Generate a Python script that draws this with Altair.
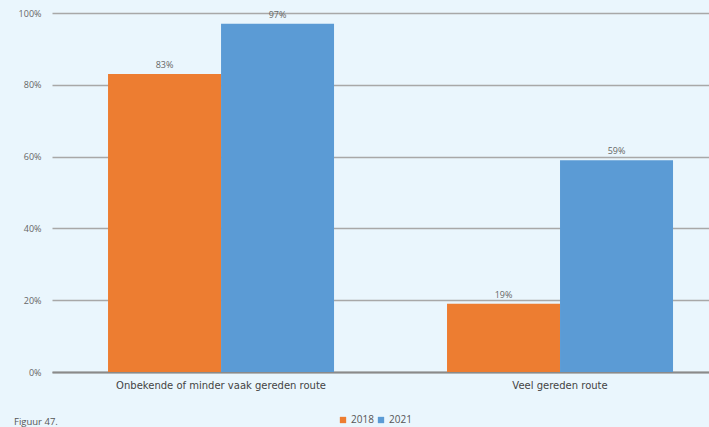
import altair as alt
import pandas as pd

categories = ["Onbekende of minder vaak gereden route", "Veel gereden route"]
years = ["2018", "2021"]
values_2018 = [0.83, 0.19]
values_2021 = [0.97, 0.59]
labels_2018 = ["83%", "19%"]
labels_2021 = ["97%", "59%"]

rows = []
for i, c in enumerate(categories):
    rows.append({"cat": c, "year": "2018", "value": values_2018[i], "label": labels_2018[i]})
    rows.append({"cat": c, "year": "2021", "value": values_2021[i], "label": labels_2021[i]})
df = pd.DataFrame(rows)

FONT = "Open Sans"
WIDE = "DejaVu Sans"
x_scale = alt.Scale(domain=categories, paddingInner=0.3333, paddingOuter=0.1357, align=0.609)

base = alt.Chart(df).encode(
    x=alt.X("cat:N", scale=x_scale, sort=categories,
            axis=alt.Axis(title=None, labelAngle=0, labelFontSize=10, labelColor="#444",
                          labelFont=WIDE, ticks=False, domainColor="#8a8a8a", labelLimit=0,
                          domainWidth=2, labelPadding=8, grid=False)),
    xOffset=alt.XOffset("year:N", sort=years, scale=alt.Scale(paddingInner=0, paddingOuter=0)),
)

bars = base.mark_bar(size=113).encode(
    y=alt.Y("value:Q", scale=alt.Scale(domain=[0, 1]),
            axis=alt.Axis(title=None, format=".0%", values=[0, 0.2, 0.4, 0.6, 0.8, 1.0],
                          labelFontSize=9, labelColor="#666", labelFont=FONT,
                          ticks=False, domain=False, gridColor="#a8a8a8", gridWidth=1.3,
                          labelPadding=11)),
    color=alt.Color("year:N", sort=years,
                    scale=alt.Scale(domain=years, range=["#ed7d31", "#5b9bd5"]),
                    legend=alt.Legend(title=None, orient="none", direction="horizontal",
                                      legendX=286, legendY=402, symbolType="square",
                                      symbolSize=40, labelFontSize=10, labelFont=FONT,
                                      labelColor="#555", columnPadding=2, labelOffset=3,
                                      symbolOffset=0)),
)

text = base.mark_text(dy=-9, fontSize=9, color="#666", font=FONT).encode(
    y="value:Q",
    text="label:N",
)

fig = alt.Chart(pd.DataFrame({"t": ["Figuur 47."]})).mark_text(
    align="left", baseline="middle", fontSize=9.5, color="#555", font=FONT
).encode(text="t:N", x=alt.value(-38), y=alt.value(409))

chart = alt.layer(bars, text, fig).properties(
    width=657, height=359,
    background="#eaf6fd",
    padding={"left": 52, "top": 13, "right": 0, "bottom": 55},
    autosize=alt.AutoSizeParams(type="none"),
).configure_view(stroke=None)

chart.save("out.html", embed_options={"renderer": "svg", "actions": False})
